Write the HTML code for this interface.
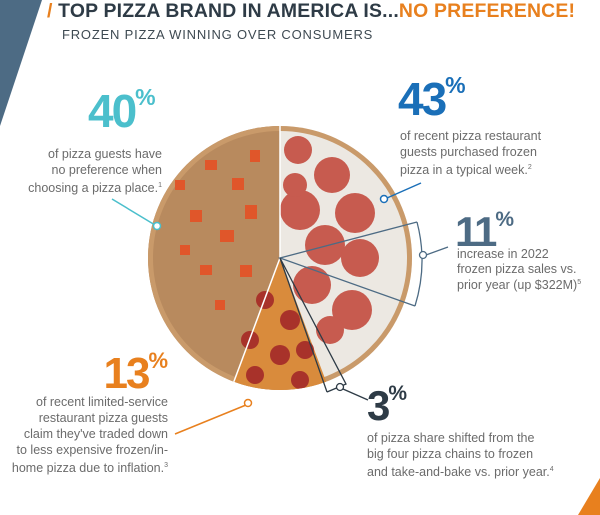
<!DOCTYPE html>
<html><head><meta charset="utf-8"><style>
body{margin:0;width:600px;height:515px;overflow:hidden;background:#fff;font-family:"Liberation Sans",sans-serif;position:relative}
.a{position:absolute;white-space:nowrap}
.big{font-weight:bold;letter-spacing:-2px;line-height:1}
.big sup{font-size:0.5em;vertical-align:top;position:relative;top:-2px;letter-spacing:0}
.t{color:#6b6b6b;font-size:12.5px;line-height:16px}
.r{text-align:right}
</style></head><body>
<svg class="a" style="left:0;top:0" width="600" height="515">
<defs><clipPath id="c"><circle cx="280" cy="258" r="132"/></clipPath></defs>
<polygon points="0,0 42,0 0,126" fill="#4d6b84"/>
<polygon points="600,478 600,515 578,515" fill="#e8801e"/>
<g clip-path="url(#c)">
<rect x="140" y="120" width="140" height="280" fill="#b88a5e"/>
<rect x="280" y="120" width="140" height="280" fill="#ece8e2"/>
<circle cx="280" cy="258" r="132" fill="none" stroke="#c99a6a" stroke-width="10"/>
<g fill="#e0562a">
<rect x="205" y="160" width="12" height="10"/><rect x="232" y="178" width="12" height="12"/><rect x="250" y="150" width="10" height="12"/>
<rect x="190" y="210" width="12" height="12"/><rect x="220" y="230" width="14" height="12"/><rect x="245" y="205" width="12" height="14"/>
<rect x="175" y="180" width="10" height="10"/><rect x="200" y="265" width="12" height="10"/><rect x="240" y="265" width="12" height="12"/>
<rect x="215" y="300" width="10" height="10"/><rect x="180" y="245" width="10" height="10"/>
</g>
<g fill="#c75b4f">
<circle cx="298" cy="150" r="14"/><circle cx="332" cy="175" r="18"/><circle cx="355" cy="213" r="20"/><circle cx="300" cy="210" r="20"/>
<circle cx="325" cy="245" r="20"/><circle cx="360" cy="258" r="19"/><circle cx="312" cy="285" r="19"/><circle cx="352" cy="310" r="20"/>
<circle cx="295" cy="185" r="12"/><circle cx="330" cy="330" r="14"/>
</g>
<polygon points="280,258 230,392 330,392" fill="#d98b3c"/>
<g fill="#a8322a"><circle cx="265" cy="300" r="9"/><circle cx="290" cy="320" r="10"/><circle cx="250" cy="340" r="9"/><circle cx="280" cy="355" r="10"/><circle cx="305" cy="350" r="9"/><circle cx="255" cy="375" r="9"/><circle cx="300" cy="380" r="9"/></g>
<line x1="280" y1="258" x2="230" y2="392" stroke="#fff" stroke-width="1.5"/>
<line x1="280" y1="258" x2="280" y2="120" stroke="#fff" stroke-width="1.5"/>
</g>
<g fill="none" stroke="#4d6b84" stroke-width="1.3">
<polyline points="417,222 280,258 415,306"/>
<path d="M417,222 Q428,264 415,306"/>
<line x1="426" y1="255" x2="448" y2="247"/>
<circle cx="423" cy="255" r="3.5" fill="#fff"/>
</g>
<g fill="none" stroke="#2e3b46" stroke-width="1.3">
<polyline points="327,392 280,258 346,384 327,392"/>
<line x1="343" y1="389" x2="368" y2="400"/>
<circle cx="340" cy="387" r="3.5" fill="#fff"/>
</g>
<g fill="none" stroke="#4bbfcc" stroke-width="1.5"><line x1="112" y1="199" x2="155" y2="225"/><circle cx="157" cy="226" r="3.5" fill="#fff"/></g>
<g fill="none" stroke="#1a6fb8" stroke-width="1.5"><line x1="421" y1="183" x2="387" y2="198"/><circle cx="384" cy="199" r="3.5" fill="#fff"/></g>
<g fill="none" stroke="#e8801e" stroke-width="1.5"><line x1="175" y1="434" x2="246" y2="405"/><circle cx="248" cy="403" r="3.5" fill="#fff"/></g>
</svg>
<div class="a" style="left:47px;top:0px;font-size:19.4px;font-weight:bold;color:#2e3b46;letter-spacing:0.2px"><span style="color:#e8801e">/</span> TOP PIZZA BRAND IN AMERICA IS...<span style="color:#e8801e">NO PREFERENCE!</span></div>
<div class="a" style="left:62px;top:27px;font-size:13px;color:#3e4a52;letter-spacing:0.8px">FROZEN PIZZA WINNING OVER CONSUMERS</div>

<div class="a big" style="left:88px;top:88px;font-size:46px;color:#4bbfcc">40<sup>%</sup></div>
<div class="a t r" style="right:438px;top:146px">of pizza guests have<br>no preference when<br>choosing a pizza place.<sup style="font-size:7px">1</sup></div>

<div class="a big" style="left:398px;top:76px;font-size:46px;color:#1a6fb8">43<sup>%</sup></div>
<div class="a t" style="left:400px;top:128px">of recent pizza restaurant<br>guests purchased frozen<br>pizza in a typical week.<sup style="font-size:7px">2</sup></div>

<div class="a big" style="left:455px;top:211px;font-size:42px;color:#4d6b84">11<sup>%</sup></div>
<div class="a t" style="left:457px;top:247px;line-height:14.5px">increase in 2022<br>frozen pizza sales vs.<br>prior year (up $322M)<sup style="font-size:7px">5</sup></div>

<div class="a big" style="right:432px;top:352px;font-size:44px;color:#e8801e">13<sup>%</sup></div>
<div class="a t r" style="right:432px;top:394px">of recent limited-service<br>restaurant pizza guests<br>claim they've traded down<br>to less expensive frozen/in-<br>home pizza due to inflation.<sup style="font-size:7px">3</sup></div>

<div class="a big" style="left:367px;top:385px;font-size:42px;color:#2e3b46">3<sup>%</sup></div>
<div class="a t" style="left:367px;top:430px">of pizza share shifted from the<br>big four pizza chains to frozen<br>and take-and-bake vs. prior year.<sup style="font-size:7px">4</sup></div>
</body></html>
